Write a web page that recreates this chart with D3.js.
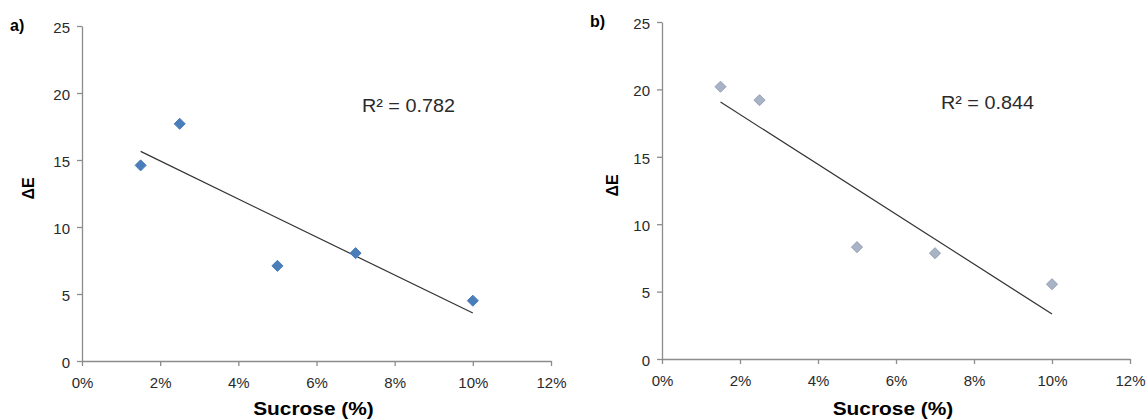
<!DOCTYPE html>
<html>
<head>
<meta charset="utf-8">
<script src="https://cdn.jsdelivr.net/npm/d3@7"></script>
<style>
  body { margin: 0; background: #fff; }
  svg { font-family: 'Liberation Sans', Arial, sans-serif; }
</style>
</head>
<body>
<svg id="chart" width="1148" height="419"></svg>
<script>
// sucrose content (%) shared by both panels
const sucrose = [1.5, 2.5, 5, 7, 10]
// colour difference, panel a and panel b
const deltaEA = [14.6, 17.7, 7.1, 8.05, 4.5]
const deltaEB = [20.2, 19.2, 8.3, 7.85, 5.55]
const xTicks = [0, 2, 4, 6, 8, 10, 12]
const yTicks = [0, 5, 10, 15, 20, 25]
const panelLabels = ['a)', 'b)']
const r2Labels = ['R\u00b2 = 0.782', 'R\u00b2 = 0.844']

const svg = d3.select('#chart')

const panels = [
  { left: 82, top: 26, bottom: 361, right: 551, ys: deltaEA, fill: '#4a7ebb', stroke: '#4a7ebb', labelX: 10, labelY: 31, ylabX: 34, r2X: 362, r2Y: 112 },
  { left: 662, top: 22, bottom: 359, right: 1130, ys: deltaEB, fill: '#a9b3c6', stroke: '#949fb4', labelX: 590, labelY: 27, ylabX: 618, r2X: 941, r2Y: 109 }
]

// least squares fit for the trendline
function fit (xs, ys) {
  const mx = d3.mean(xs), my = d3.mean(ys)
  const b = d3.sum(xs, (x, i) => (x - mx) * (ys[i] - my)) / d3.sum(xs, x => (x - mx) ** 2)
  return x => my + b * (x - mx)
}

panels.forEach((p, k) => {
  const x = d3.scaleLinear().domain([0, 12]).range([p.left, p.right])
  const y = d3.scaleLinear().domain([0, 25]).range([p.bottom, p.top])
  const g = svg.append('g')

  const xAxis = g.append('g')
    .attr('transform', 'translate(0,' + p.bottom + ')')
    .call(d3.axisBottom(x).tickValues(xTicks).tickSize(5).tickSizeOuter(0).tickFormat(d => d + '%'))
  const yAxis = g.append('g')
    .attr('transform', 'translate(' + p.left + ',0)')
    .call(d3.axisLeft(y).tickValues(yTicks).tickSize(5).tickSizeOuter(0))

  ;[xAxis, yAxis].forEach(a => {
    a.select('.domain').attr('stroke', '#8c8c8c').attr('stroke-width', 1.3)
    a.selectAll('.tick line').attr('stroke', '#8c8c8c').attr('stroke-width', 1.3)
    a.selectAll('.tick text').attr('fill', '#2a2a2a').style('font-size', '15px')
  })
  xAxis.selectAll('.tick text').attr('y', 27).attr('dy', 0)
  yAxis.selectAll('.tick text').attr('x', -12).attr('dy', '0.42em')

  // trendline
  const f = fit(sucrose, p.ys)
  const x0 = d3.min(sucrose), x1 = d3.max(sucrose)
  g.append('line')
    .attr('x1', x(x0)).attr('y1', y(f(x0)))
    .attr('x2', x(x1)).attr('y2', y(f(x1)))
    .attr('stroke', '#333').attr('stroke-width', 1.2)

  // diamond markers
  const sym = d3.symbol().type(d3.symbolDiamond2).size(78)
  g.selectAll('.pt')
    .data(sucrose.map((s, i) => [s, p.ys[i]]))
    .enter().append('path')
    .attr('class', 'pt')
    .attr('d', sym)
    .attr('transform', d => 'translate(' + x(d[0]) + ',' + y(d[1]) + ')')
    .attr('fill', p.fill)
    .attr('stroke', p.stroke)
    .attr('stroke-width', 1)

  g.append('text')
    .attr('x', p.labelX).attr('y', p.labelY)
    .style('font-size', '16px').style('font-weight', 'bold')
    .text(panelLabels[k])

  g.append('text')
    .attr('transform', 'translate(' + p.ylabX + ',' + ((p.top + p.bottom) / 2 - 5) + ') rotate(-90)')
    .attr('text-anchor', 'middle')
    .style('font-size', '16px').style('font-weight', 'bold')
    .text('\u0394E')

  g.append('text')
    .attr('transform', 'translate(' + ((p.left + p.right) / 2 - 3) + ',415) scale(1.16,1)')
    .attr('text-anchor', 'middle')
    .style('font-size', '18px').style('font-weight', 'bold')
    .text('Sucrose (%)')

  g.append('text')
    .attr('transform', 'translate(' + p.r2X + ',' + p.r2Y + ') scale(1.1,1)')
    .attr('fill', '#2a2a2a')
    .style('font-size', '18px')
    .text(r2Labels[k])
})
</script>
</body>
</html>
